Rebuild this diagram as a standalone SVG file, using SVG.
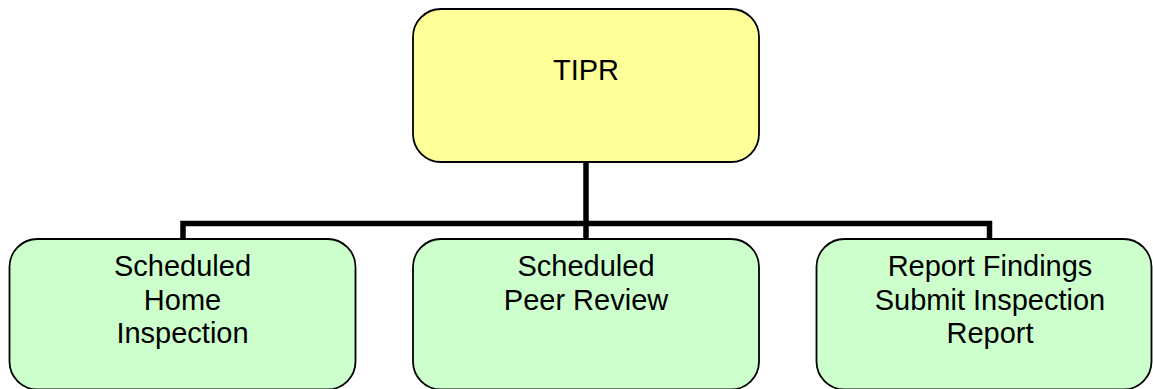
<svg xmlns="http://www.w3.org/2000/svg" width="1153" height="389" viewBox="0 0 1153 389">
  <style>
    .box { stroke: #000; stroke-width: 1.8; }
    .root { fill: #FFFF99; }
    .leaf { fill: #CCFFCC; }
    .label { font-family: "Liberation Sans", Arial, sans-serif; font-size: 29px; fill: #000; text-anchor: middle; }
    .wire { fill: none; stroke: #000; stroke-width: 5.5; stroke-linecap: butt; stroke-linejoin: miter; }
  </style>
  <rect width="1153" height="389" fill="#fff"/>

  <!-- connectors -->
  <g id="connectors">
    <path class="wire" d="M586 162 V239"/>
    <path class="wire" d="M183 239 V223.5 H989.5 V239"/>
  </g>

  <g id="node-tipr">
    <rect class="box root" x="413" y="9" width="346" height="153" rx="28" ry="28"/>
    <text class="label" x="586" y="80">TIPR</text>
  </g>

  <g id="node-home-inspection">
    <rect class="box leaf" x="9.5" y="239" width="346" height="150.5" rx="28" ry="28"/>
    <text class="label" x="182.5" y="276">Scheduled</text>
    <text class="label" x="182.5" y="309.5">Home</text>
    <text class="label" x="182.5" y="343">Inspection</text>
  </g>

  <g id="node-peer-review">
    <rect class="box leaf" x="413" y="239" width="346" height="150.5" rx="28" ry="28"/>
    <text class="label" x="586" y="276">Scheduled</text>
    <text class="label" x="586" y="309.5">Peer Review</text>
  </g>

  <g id="node-report">
    <rect class="box leaf" x="816.5" y="239" width="335" height="150.5" rx="28" ry="28"/>
    <text class="label" x="990" y="276">Report Findings</text>
    <text class="label" x="990" y="309.5">Submit Inspection</text>
    <text class="label" x="990" y="343">Report</text>
  </g>
</svg>
